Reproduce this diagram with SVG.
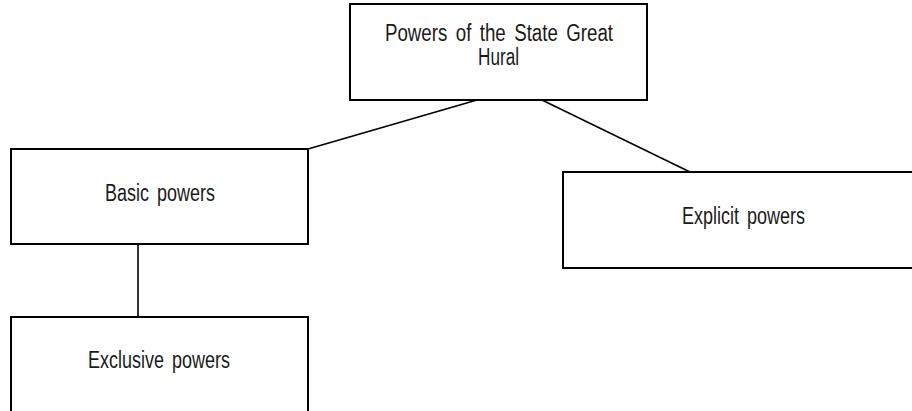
<svg xmlns="http://www.w3.org/2000/svg" width="912" height="411" viewBox="0 0 912 411">
  <style>
    .box { fill: #ffffff; stroke: #000000; stroke-width: 2; }
    .link { stroke: #000000; stroke-width: 1.6; fill: none; }
    .label { font-family: "Liberation Sans Narrow", "Liberation Sans", Arial, sans-serif; font-size: 23px; fill: #1a1a1a; word-spacing: 4px; }
  </style>
  <rect width="912" height="411" fill="#ffffff"/>

  <g id="connectors">
    <line class="link" x1="477" y1="100" x2="308" y2="149"/>
    <line class="link" x1="542" y1="100" x2="690" y2="172"/>
    <line class="link" x1="138" y1="244" x2="138" y2="317"/>
  </g>

  <g id="node-state-great-hural">
    <rect class="box" x="350" y="4" width="297" height="96"/>
    <text class="label" x="385" y="41" textLength="228" lengthAdjust="spacingAndGlyphs">Powers of the State Great</text>
    <text class="label" x="478" y="65" textLength="41" lengthAdjust="spacingAndGlyphs">Hural</text>
  </g>

  <g id="node-basic">
    <rect class="box" x="11" y="149" width="297" height="95"/>
    <text class="label" x="105" y="201" textLength="110" lengthAdjust="spacingAndGlyphs">Basic  powers</text>
  </g>

  <g id="node-explicit">
    <rect class="box" x="563" y="172" width="360" height="96"/>
    <text class="label" x="682" y="224" textLength="123" lengthAdjust="spacingAndGlyphs">Explicit  powers</text>
  </g>

  <g id="node-exclusive">
    <rect class="box" x="11" y="317" width="297" height="110"/>
    <text class="label" x="88" y="368" textLength="142" lengthAdjust="spacingAndGlyphs">Exclusive  powers</text>
  </g>
</svg>
